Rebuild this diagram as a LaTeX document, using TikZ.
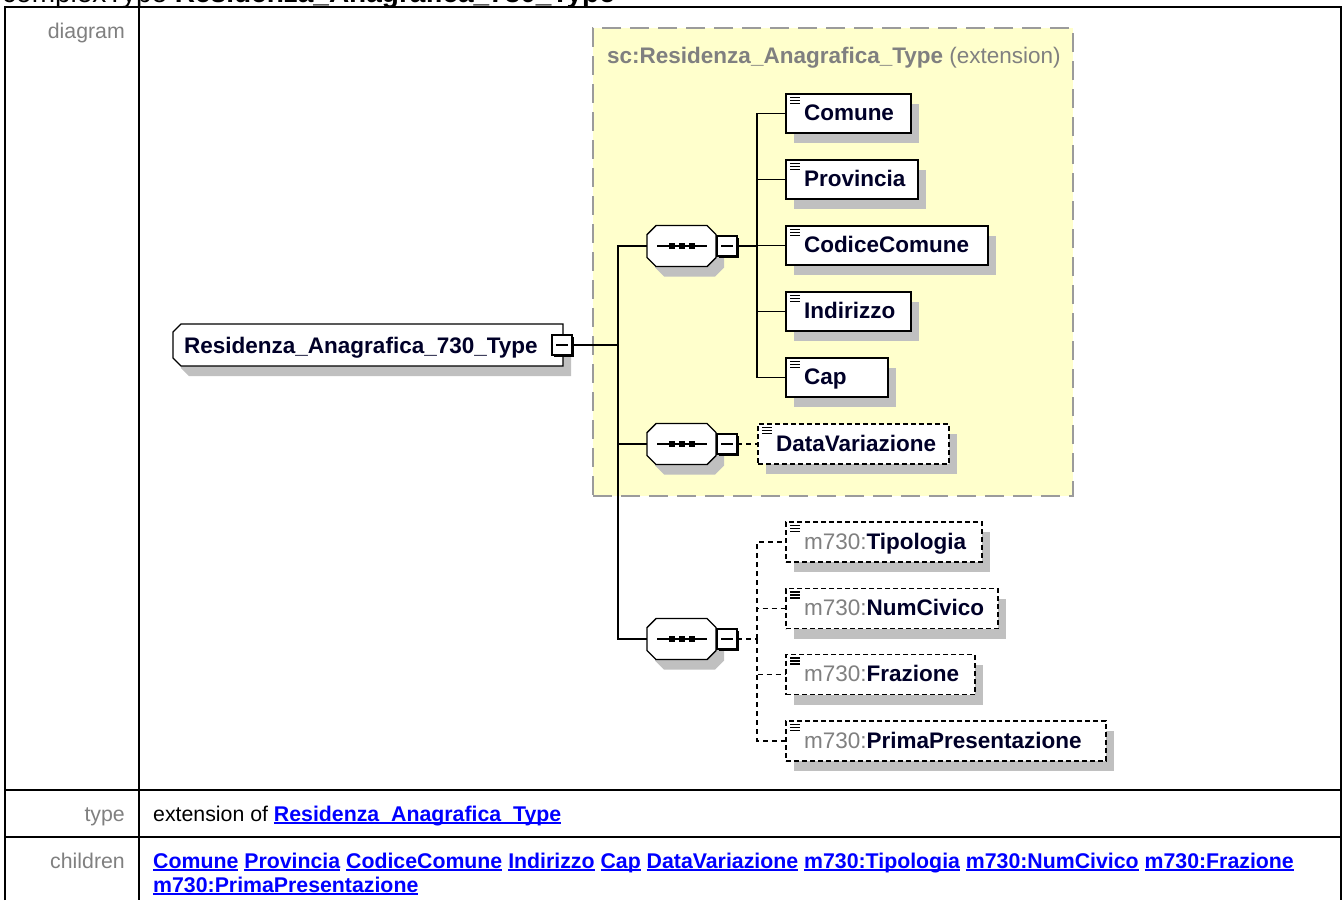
\documentclass[tikz,border=0pt]{standalone}
\usepackage{fontspec}
\setmainfont{Liberation Sans}
\usetikzlibrary{shadows,calc}
\definecolor{yel}{RGB}{255,255,204}
\definecolor{yelborder}{RGB}{155,155,155}
\definecolor{shad}{RGB}{192,192,192}
\definecolor{lbl}{RGB}{128,128,128}
\definecolor{dark}{RGB}{0,0,40}
\definecolor{lnkblue}{RGB}{0,0,255}
\newcommand\lnk[1]{{\color{lnkblue}\setbox0\hbox{\bfseries #1}\rlap{\rule[-2.5pt]{\wd0}{1.5pt}}\box0}}
\newcommand\pre[1]{{\mdseries\color{lbl}#1}}
\newcommand\elt[1]{\mbox{\hspace*{4pt}#1}}
\newcommand\elicon[1]{\foreach \dy in {3.5,6.5,9.5}{\draw[line width=1.3pt] ([xshift=4pt,yshift=-\dy pt]#1.north west) -- ++(10,0);}}
\newcommand\seqinside[1]{%
  \draw[line width=1.4pt] ([xshift=-24.5pt]#1.center) -- ([xshift=25pt]#1.center);
  \foreach \dx in {-10,0,10}{\fill ([xshift=\dx pt-3pt,yshift=3pt]#1.center) rectangle ++(6,6);}}
\newcommand\minussign[1]{\draw[line width=1.3pt] ([xshift=-6pt]#1.center) -- ([xshift=6pt]#1.center);}
\tikzset{
  conn/.style={line width=1.4pt, draw=black},
  dconn/.style={conn, dash pattern=on 5pt off 4pt},
  dfont/.style={font=\fontsize{22.5}{26}\selectfont\bfseries},
  tabfont/.style={font=\fontsize{21.3}{25}\selectfont},
  elem/.style={draw=black, fill=white, line width=1.4pt, inner xsep=14pt, inner ysep=0pt,
    minimum height=39pt, text height=16pt, text depth=2pt, align=left, anchor=west,
    dfont, text=dark, outer sep=0pt,
    drop shadow={shadow xshift=8pt, shadow yshift=-10pt, fill=shad, opacity=1}},
  optelem/.style={elem, dash pattern=on 5pt off 3pt},
  seqn/.style={draw=none, minimum width=69pt, minimum height=41pt, inner sep=0pt, outer sep=0pt},
  minpos/.style={draw=none, minimum size=20pt, inner sep=0pt, outer sep=0pt},
  minbox/.style={draw=black, fill=white, line width=1.3pt, minimum size=20pt, inner sep=0pt, outer sep=0pt,
    drop shadow={shadow xshift=2pt, shadow yshift=-2pt, fill=black, opacity=1}},
  seqpath/.style={insert path={([xshift=9pt]#1.north west) -- ([xshift=-9pt]#1.north east) -- ([yshift=-9pt]#1.north east) -- ([yshift=9pt]#1.south east) -- ([xshift=-9pt]#1.south east) -- ([xshift=9pt]#1.south west) -- ([yshift=9pt]#1.south west) -- ([yshift=-9pt]#1.north west) -- cycle}},
  mainpath/.style={insert path={([xshift=8pt]#1.north west) -- (#1.north east) -- (#1.south east) -- ([xshift=8pt]#1.south west) -- ([yshift=8pt]#1.south west) -- ([yshift=-8pt]#1.north west) -- cycle}},
  tline/.style={line width=2pt, draw=black},
  extbox/.style={fill=yel, draw=yelborder, line width=1.6pt, dash pattern=on 19pt off 9pt, inner sep=0pt, outer sep=0pt}
}
\begin{document}
\begin{tikzpicture}[x=1pt,y=-1pt]
\useasboundingbox (0,0) rectangle (1344,900);
\fill[white] (0,0) rectangle (1344,900);
% page title, cut off at the top edge as in the reference
\begin{scope}
  \clip (0,0) rectangle (1344,6);
  \node[anchor=base west, inner sep=0pt, font=\fontsize{28}{32}\selectfont] (title) at (2,2.5) {complexType \textbf{Residenza\_Anagrafica\_730\_Type}};
\end{scope}
% table
\coordinate (tl) at (5,7);
\coordinate (tr) at (1341,7);
\coordinate (bl) at (5,900);
\coordinate (br) at (1341,900);
\coordinate (sep1) at (139,7);
\coordinate (sep2) at (139,900);
\coordinate (r1l) at (5,790);
\coordinate (r1r) at (1341,790);
\coordinate (r2l) at (5,837);
\coordinate (r2r) at (1341,837);
\draw[tline] (bl) -- (tl) -- (tr) -- (br);
\draw[tline] (sep1) -- (sep2);
\draw[tline] (r1l) -- (r1r);
\draw[tline] (r2l) -- (r2r);
\node[anchor=base east, text=lbl, tabfont, inner sep=0pt] (ld) at (125,38) {diagram};
\node[anchor=base east, text=lbl, tabfont, inner sep=0pt] (lt) at (125,821) {type};
\node[anchor=base east, text=lbl, tabfont, inner sep=0pt] (lc) at (125,868) {children};
\node[anchor=base west, tabfont, inner sep=0pt] (tt) at (153,821) {extension of \lnk{Residenza\_Anagrafica\_Type}};
\node[anchor=base west, tabfont, inner sep=0pt] (c1) at (153,868) {\lnk{Comune} \lnk{Provincia} \lnk{CodiceComune} \lnk{Indirizzo} \lnk{Cap} \lnk{DataVariazione} \lnk{m730:Tipologia} \lnk{m730:NumCivico} \lnk{m730:Frazione}};
\node[anchor=base west, tabfont, inner sep=0pt] (c2) at (153,892) {\lnk{m730:PrimaPresentazione}};
% extension box
\node[extbox, minimum width=480pt, minimum height=468pt] (ext) at (833,262) {};
\node[anchor=base west, inner sep=0pt, font=\fontsize{22.5}{26}\selectfont, text=lbl] (extl) at (607,63) {\textbf{sc:Residenza\_Anagrafica\_Type} (extension)};
% main node and sequences (positions)
\node[seqn, minimum width=390pt, minimum height=42pt] (m) at (368,345) {};
\node[seqn] (s1) at (681.5,246) {};
\node[seqn] (s2) at (681.5,444) {};
\node[seqn] (s3) at (681.5,639) {};
\node[minpos] (mm) at (562,345) {};
\node[minpos] (s1m) at (727,246) {};
\node[minpos] (s2m) at (727,444) {};
\node[minpos] (s3m) at (727,639) {};
% elements
\node[elem, text width=97pt] (e1) at (786,113.5) {\elt{Comune}};
\node[elem, text width=104pt] (e2) at (786,179.5) {\elt{Provincia}};
\node[elem, text width=174pt] (e3) at (786,245.5) {\elt{CodiceComune}};
\node[elem, text width=97pt] (e4) at (786,311.5) {\elt{Indirizzo}};
\node[elem, text width=74pt] (e5) at (786,377.5) {\elt{Cap}};
\node[optelem, text width=163pt, minimum height=40pt] (e6) at (758,444) {\elt{DataVariazione}};
\node[optelem, text width=168pt, minimum height=40pt] (e7) at (786,542) {\elt{\pre{m730:}Tipologia}};
\node[optelem, text width=184pt, minimum height=40pt] (e8) at (786,608.5) {\elt{\pre{m730:}NumCivico}};
\node[optelem, text width=161pt, minimum height=40pt] (e9) at (786,674.5) {\elt{\pre{m730:}Frazione}};
\node[optelem, text width=292pt, minimum height=40pt] (e10) at (786,741) {\elt{\pre{m730:}PrimaPresentazione}};
\foreach \e in {e1,e2,e3,e4,e5,e6,e7,e8,e9,e10}{\elicon{\e}}
% connectors
\coordinate (j) at (618,345);
\coordinate (b1) at (757,246);
\coordinate (b3) at (757,639);
\draw[conn] (mm.east) -- (j);
\draw[conn] (s1.west) -| (j);
\draw[conn] (s2.west) -- (s2.west -| j);
\draw[conn] (s3.west) -| (j);
\draw[conn] (s1m.east) -- (b1);
\foreach \e in {e1,e2,e3,e4,e5}{\draw[conn] (b1) |- (\e.west);}
\draw[dconn] (s2m.east) -- (e6.west);
\draw[dconn] (s3m.east) -- (b3);
\foreach \e in {e7,e8,e9,e10}{\draw[dconn] (b3) |- (\e.west);}
% shapes
\begin{scope}[transform canvas={shift={(8pt,-10pt)}}]
  \fill[shad, mainpath=m];
  \fill[shad, seqpath=s1];
  \fill[shad, seqpath=s2];
  \fill[shad, seqpath=s3];
\end{scope}
\filldraw[fill=white, draw=black, line width=1.4pt, mainpath=m];
\filldraw[fill=white, draw=black, line width=1.4pt, seqpath=s1];
\filldraw[fill=white, draw=black, line width=1.4pt, seqpath=s2];
\filldraw[fill=white, draw=black, line width=1.4pt, seqpath=s3];
\seqinside{s1}
\seqinside{s2}
\seqinside{s3}
\node[anchor=base west, inner sep=0pt, dfont, text=dark] (mt) at (184,353) {Residenza\_Anagrafica\_730\_Type};
\node[minbox] (mmb) at (mm) {};
\node[minbox] (s1mb) at (s1m) {};
\node[minbox] (s2mb) at (s2m) {};
\node[minbox] (s3mb) at (s3m) {};
\minussign{mmb}
\minussign{s1mb}
\minussign{s2mb}
\minussign{s3mb}
\end{tikzpicture}
\end{document}
